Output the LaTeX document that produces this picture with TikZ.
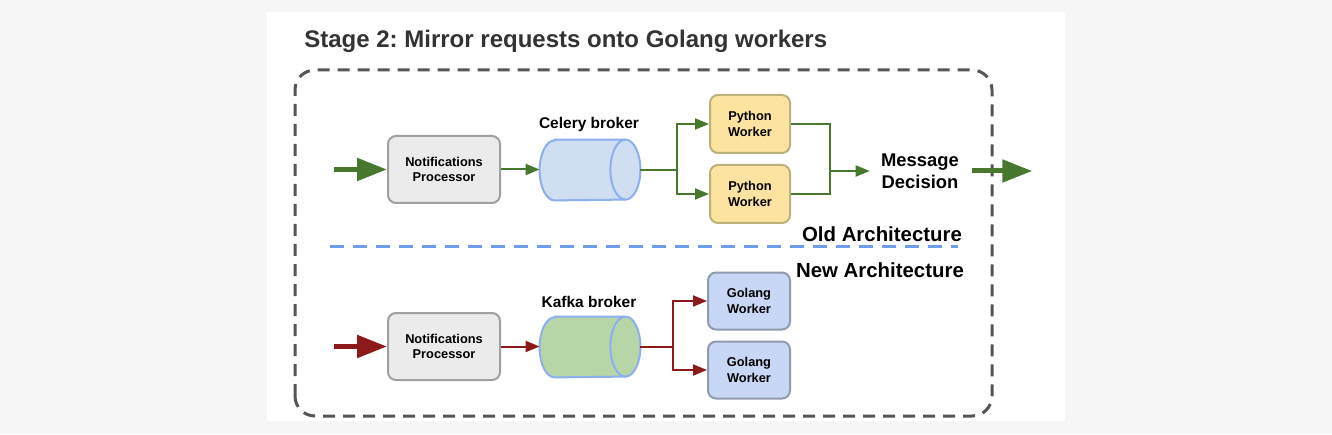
\documentclass[tikz,border=0pt]{standalone}
\usepackage{fontspec}
\setmainfont{Liberation Sans}
\usetikzlibrary{arrows.meta}
\frenchspacing
\definecolor{bggray}{RGB}{246,246,246}
\definecolor{titlegray}{RGB}{51,51,51}
\definecolor{outergray}{RGB}{85,85,85}
\definecolor{arrgreen}{RGB}{72,120,46}
\definecolor{arrred}{RGB}{140,26,26}
\definecolor{npfill}{RGB}{235,235,235}
\definecolor{npdraw}{RGB}{160,160,160}
\definecolor{pyfill}{RGB}{252,228,160}
\definecolor{pydraw}{RGB}{190,176,125}
\definecolor{gofill}{RGB}{200,215,245}
\definecolor{godraw}{RGB}{145,155,175}
\definecolor{celfill}{RGB}{207,222,240}
\definecolor{kaffill}{RGB}{182,214,168}
\definecolor{cyldraw}{RGB}{140,175,240}
\definecolor{sepblue}{RGB}{109,158,235}
\tikzset{
  x=0.5pt,y=0.5pt,
  boxbase/.style={rounded corners=4pt, line width=1pt, align=center, inner sep=0pt,
    font=\bfseries\fontsize{6.4}{7.8}\selectfont},
  npbox/.style={boxbase, fill=npfill, draw=npdraw, minimum width=56pt, minimum height=33.5pt},
  pybox/.style={boxbase, fill=pyfill, draw=pydraw, minimum width=40pt, minimum height=29pt},
  gobox/.style={boxbase, fill=gofill, draw=godraw, minimum width=41pt, minimum height=28.5pt},
  cylslot/.style={inner sep=0pt, minimum width=50pt, minimum height=30pt},
  cylface/.style={line width=1pt, draw=cyldraw},
  lbl/.style={font=\bfseries\fontsize{7.75}{9}\selectfont, inner sep=0pt},
  biglbl/.style={font=\bfseries\fontsize{10.2}{12}\selectfont, inner sep=0pt},
  thinarrow/.style={line width=1pt, -{Triangle[length=7pt,width=5.5pt]}},
  thinline/.style={line width=1pt},
  fatarrow/.style={line width=2.5pt, -{Triangle[length=15pt,width=11pt]}},
}
\newcommand{\cylshape}[2]{%
  \path[cylface, fill=#2] ([xshift=7.5pt]#1.north west) -- ([xshift=-7.5pt]#1.north east)
    arc[start angle=90, end angle=-90, x radius=7.5pt, y radius=15pt]
    -- ([xshift=7.5pt]#1.south west)
    arc[start angle=270, end angle=90, x radius=7.5pt, y radius=15pt] -- cycle;
  \draw[cylface] ([xshift=-7.5pt]#1.north east)
    arc[start angle=90, end angle=270, x radius=7.5pt, y radius=15pt];}
\begin{document}
\begin{tikzpicture}
\useasboundingbox (0,0) rectangle (1332,434);
\fill[bggray] (0,0) rectangle (1332,434);
\fill[white] (267,13) rectangle (1065,422);

\node[anchor=west, text=titlegray, font=\bfseries\fontsize{12}{14}\selectfont, inner sep=0pt] (title) at (304,393) {Stage 2: Mirror requests onto Golang workers};

\draw[outergray, line width=1.5pt, dash pattern=on 6pt off 4pt, rounded corners=10pt] (295,18) rectangle (992,364);

% Old architecture
\node[npbox] (np1) at (444,264.5) {Notifications\\Processor};
\node[cylslot] (cel) at (590,264) {};
\cylshape{cel}{celfill}
\node[lbl] (cellbl) at (589,310) {Celery broker};
\node[pybox] (pw1) at (750,310) {Python\\Worker};
\node[pybox] (pw2) at (750,240) {Python\\Worker};
\node[font=\bfseries\fontsize{9.2}{11}\selectfont, align=center, inner xsep=5.5pt, inner ysep=0pt] (md) at (920,263) {Message\\Decision};
\coordinate (mj) at (830,263);

\draw[fatarrow, arrgreen] ([xshift=-26.5pt]np1.west) -- (np1.west);
\draw[thinarrow, arrgreen] (np1.east) -- (np1.east -| cel.west);
\draw[thinarrow, arrgreen] (cel.east) -- ++(18.5pt,0pt) |- (pw1.west);
\draw[thinarrow, arrgreen] (cel.east) -- ++(18.5pt,0pt) |- (pw2.west);
\draw[thinline, arrgreen] (pw1.east) -| (mj);
\draw[thinline, arrgreen] (pw2.east) -| (mj);
\draw[thinarrow, arrgreen] (mj) -- (md.west);
\draw[fatarrow, arrgreen] ([xshift=1pt]md.east) -- ++(30pt,0pt);

% separator
\coordinate (sepA) at (330,187);
\coordinate (sepB) at (958,187);
\draw[sepblue, line width=1.5pt, dash pattern=on 7pt off 4.5pt] (sepA) -- (sepB);
\node[biglbl] (old) at (882,200) {Old Architecture};
\node[biglbl] (new) at (880,164) {New Architecture};

% New architecture
\node[npbox] (np2) at (444,87.5) {Notifications\\Processor};
\node[cylslot] (kaf) at (590,87) {};
\cylshape{kaf}{kaffill}
\node[lbl] (kaflbl) at (589,132) {Kafka broker};
\node[gobox] (gw1) at (749,133) {Golang\\Worker};
\node[gobox] (gw2) at (749,64) {Golang\\Worker};

\draw[fatarrow, arrred] ([xshift=-26.5pt]np2.west) -- (np2.west);
\draw[thinarrow, arrred] (np2.east) -- (np2.east -| kaf.west);
\draw[thinarrow, arrred] (kaf.east) -- ++(16.5pt,0pt) |- (gw1.west);
\draw[thinarrow, arrred] (kaf.east) -- ++(16.5pt,0pt) |- (gw2.west);
\end{tikzpicture}
\end{document}
